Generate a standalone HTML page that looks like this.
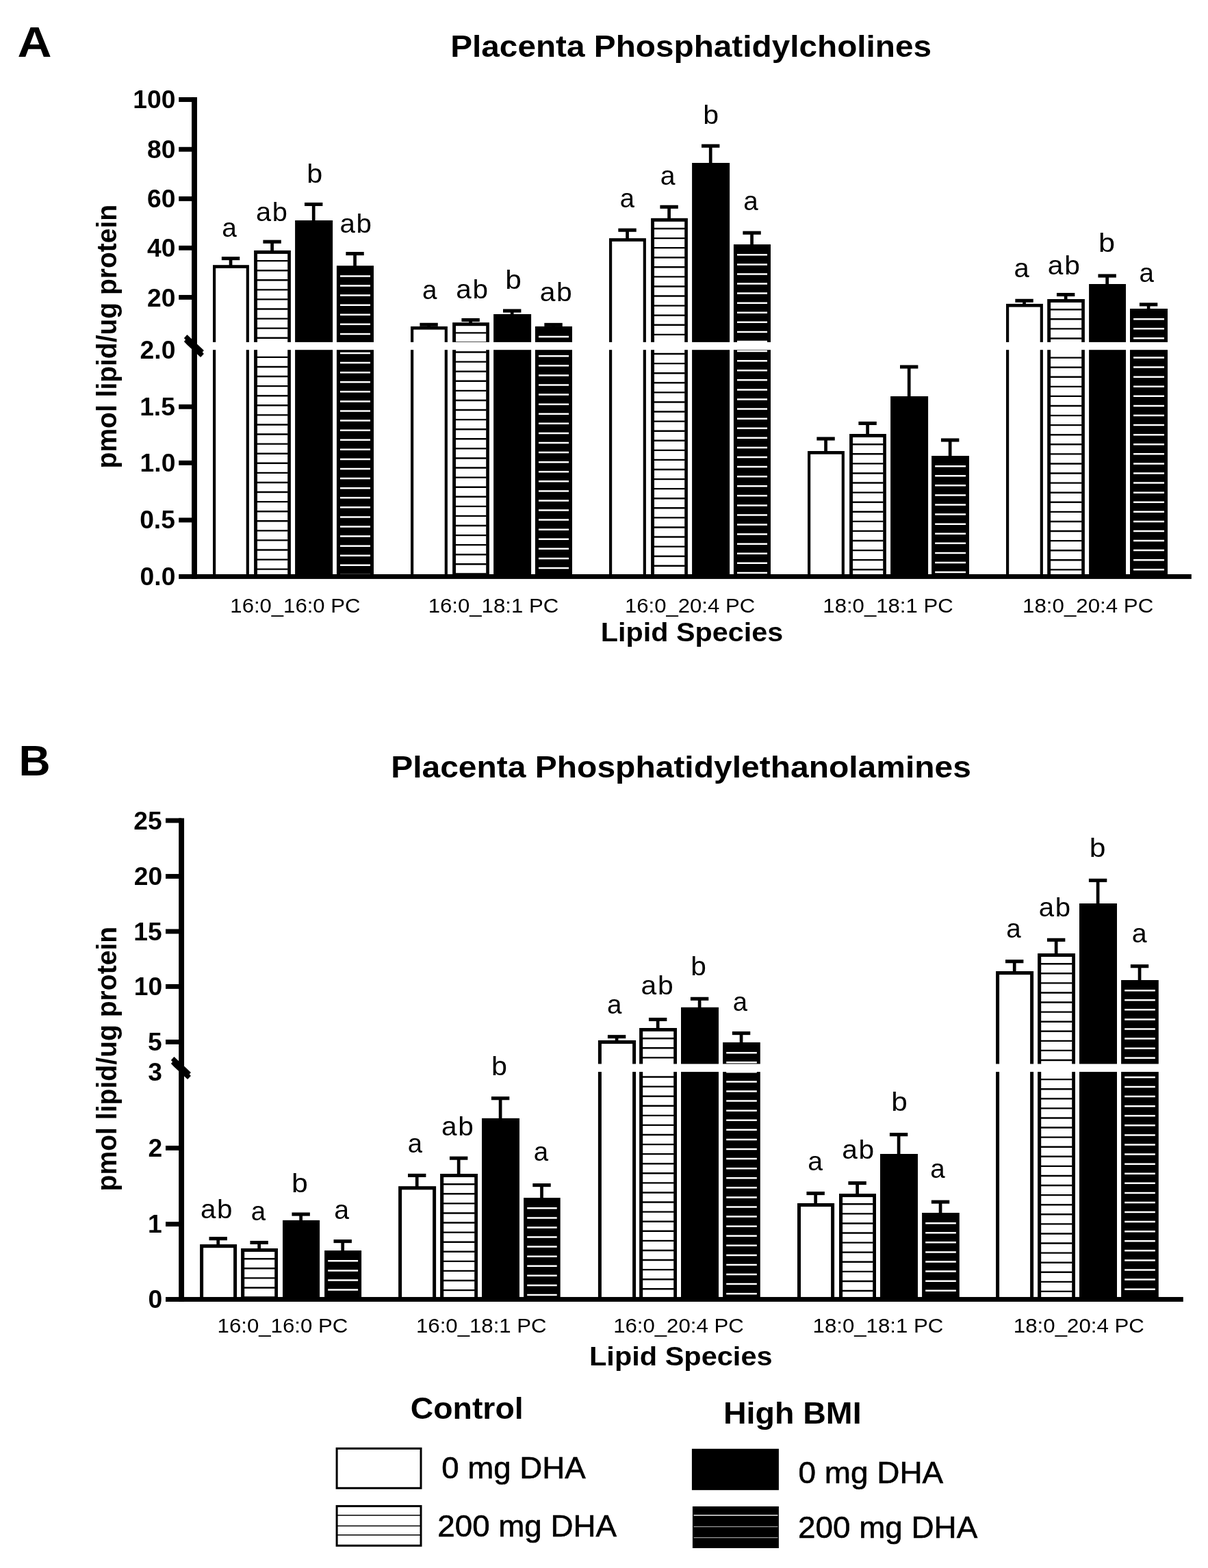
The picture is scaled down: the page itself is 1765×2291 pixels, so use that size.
<!DOCTYPE html>
<html lang="en">
<head>
<meta charset="utf-8">
<title>Placenta Phosphatidylcholines and Phosphatidylethanolamines</title>
<style>
html,body{margin:0;padding:0;background:#fff;}
body{width:1765px;height:2291px;overflow:hidden;}
svg{display:block;}
svg text{font-family:"Liberation Sans",sans-serif;fill:#000;white-space:pre;}
</style>
</head>
<body>
<svg width="1765" height="2291" viewBox="0 0 1765 2291">
<rect x="0" y="0" width="1765" height="2291" fill="#fff"/>
<text transform="translate(25.47 83.1) scale(1.0923 1)" font-size="63.4" font-weight="bold">A</text>
<text transform="translate(27.58 1133) scale(1.0084 1)" font-size="63.4" font-weight="bold">B</text>
<text transform="translate(658.18 82.9) scale(1.0753 1)" font-size="44.4" font-weight="bold">Placenta Phosphatidylcholines</text>
<text transform="translate(571.16 1135.8) scale(1.0806 1)" font-size="44.4" font-weight="bold">Placenta Phosphatidylethanolamines</text>
<rect x="334.7" y="377.6" width="4.7" height="10.6" fill="#000"/>
<rect x="323.85" y="375.05" width="26.4" height="5.1" fill="#000"/>
<rect x="311" y="387.2" width="52.9" height="455.25" fill="#000"/>
<rect x="315.2" y="391.9" width="44.5" height="450.55" fill="#fff"/>
<rect x="395.25" y="353.2" width="4.7" height="13.7" fill="#000"/>
<rect x="384.4" y="350.65" width="26.4" height="5.1" fill="#000"/>
<rect x="371.1" y="365.9" width="53.8" height="476.55" fill="#000"/>
<rect x="376" y="370.9" width="44.2" height="471.55" fill="#fff"/>
<path d="M375.6 381.1H420.6M375.6 395.18H420.6M375.6 409.26H420.6M375.6 423.34H420.6M375.6 437.42H420.6M375.6 451.5H420.6M375.6 465.58H420.6M375.6 479.66H420.6M375.6 493.74H420.6M375.6 507.82H420.6M375.6 521.9H420.6M375.6 535.98H420.6M375.6 550.06H420.6M375.6 564.14H420.6M375.6 578.22H420.6M375.6 592.3H420.6M375.6 606.38H420.6M375.6 620.46H420.6M375.6 634.54H420.6M375.6 648.62H420.6M375.6 662.7H420.6M375.6 676.78H420.6M375.6 690.86H420.6M375.6 704.94H420.6M375.6 719.02H420.6M375.6 733.1H420.6M375.6 747.18H420.6M375.6 761.26H420.6M375.6 775.34H420.6M375.6 789.42H420.6M375.6 803.5H420.6M375.6 817.58H420.6M375.6 831.66H420.6" stroke="#000" stroke-width="2.4" fill="none"/>
<rect x="455.85" y="298.5" width="4.7" height="24.5" fill="#000"/>
<rect x="445" y="295.95" width="26.4" height="5.1" fill="#000"/>
<rect x="431.1" y="322" width="55" height="520.45" fill="#000"/>
<rect x="516.2" y="370.6" width="4.7" height="18.6" fill="#000"/>
<rect x="505.35" y="368.05" width="26.4" height="5.1" fill="#000"/>
<rect x="491.9" y="388.2" width="54.1" height="454.25" fill="#000"/>
<path d="M497 403.4H541M497 417.48H541M497 431.56H541M497 445.64H541M497 459.72H541M497 473.8H541M497 487.88H541M497 501.96H541M497 516.04H541M497 530.12H541M497 544.2H541M497 558.28H541M497 572.36H541M497 586.44H541M497 600.52H541M497 614.6H541M497 628.68H541M497 642.76H541M497 656.84H541M497 670.92H541M497 685H541M497 699.08H541M497 713.16H541M497 727.24H541M497 741.32H541M497 755.4H541M497 769.48H541M497 783.56H541M497 797.64H541M497 811.72H541M497 825.8H541M497 839.88H541" stroke="#fff" stroke-width="2.5" fill="none"/>
<rect x="624.2" y="474.3" width="4.7" height="3.6" fill="#000"/>
<rect x="613.35" y="471.75" width="26.4" height="5.1" fill="#000"/>
<rect x="600" y="476.9" width="53.9" height="365.55" fill="#000"/>
<rect x="604.2" y="481.6" width="45.5" height="360.85" fill="#fff"/>
<rect x="685.25" y="467.5" width="4.7" height="4.7" fill="#000"/>
<rect x="674.4" y="464.95" width="26.4" height="5.1" fill="#000"/>
<rect x="661.1" y="471.2" width="53.8" height="371.25" fill="#000"/>
<rect x="666" y="476.2" width="44.2" height="366.25" fill="#fff"/>
<path d="M665.6 486.4H710.6M665.6 500.48H710.6M665.6 514.56H710.6M665.6 528.64H710.6M665.6 542.72H710.6M665.6 556.8H710.6M665.6 570.88H710.6M665.6 584.96H710.6M665.6 599.04H710.6M665.6 613.12H710.6M665.6 627.2H710.6M665.6 641.28H710.6M665.6 655.36H710.6M665.6 669.44H710.6M665.6 683.52H710.6M665.6 697.6H710.6M665.6 711.68H710.6M665.6 725.76H710.6M665.6 739.84H710.6M665.6 753.92H710.6M665.6 768H710.6M665.6 782.08H710.6M665.6 796.16H710.6M665.6 810.24H710.6M665.6 824.32H710.6M665.6 838.4H710.6" stroke="#000" stroke-width="2.4" fill="none"/>
<rect x="745.85" y="454.1" width="4.7" height="5.9" fill="#000"/>
<rect x="735" y="451.55" width="26.4" height="5.1" fill="#000"/>
<rect x="721.1" y="459" width="55" height="383.45" fill="#000"/>
<rect x="806.2" y="474.4" width="4.7" height="3.5" fill="#000"/>
<rect x="795.35" y="471.85" width="26.4" height="5.1" fill="#000"/>
<rect x="781.9" y="476.9" width="54.1" height="365.55" fill="#000"/>
<path d="M787 492.1H831M787 506.18H831M787 520.26H831M787 534.34H831M787 548.42H831M787 562.5H831M787 576.58H831M787 590.66H831M787 604.74H831M787 618.82H831M787 632.9H831M787 646.98H831M787 661.06H831M787 675.14H831M787 689.22H831M787 703.3H831M787 717.38H831M787 731.46H831M787 745.54H831M787 759.62H831M787 773.7H831M787 787.78H831M787 801.86H831M787 815.94H831M787 830.02H831" stroke="#fff" stroke-width="2.5" fill="none"/>
<rect x="914.2" y="336.2" width="4.7" height="12.9" fill="#000"/>
<rect x="903.35" y="333.65" width="26.4" height="5.1" fill="#000"/>
<rect x="890" y="348.1" width="53.9" height="494.35" fill="#000"/>
<rect x="894.2" y="352.8" width="45.5" height="489.65" fill="#fff"/>
<rect x="975.25" y="302.3" width="4.7" height="17.5" fill="#000"/>
<rect x="964.4" y="299.75" width="26.4" height="5.1" fill="#000"/>
<rect x="951.1" y="318.8" width="53.8" height="523.65" fill="#000"/>
<rect x="956" y="323.8" width="44.2" height="518.65" fill="#fff"/>
<path d="M955.6 334H1000.6M955.6 348.08H1000.6M955.6 362.16H1000.6M955.6 376.24H1000.6M955.6 390.32H1000.6M955.6 404.4H1000.6M955.6 418.48H1000.6M955.6 432.56H1000.6M955.6 446.64H1000.6M955.6 460.72H1000.6M955.6 474.8H1000.6M955.6 488.88H1000.6M955.6 502.96H1000.6M955.6 517.04H1000.6M955.6 531.12H1000.6M955.6 545.2H1000.6M955.6 559.28H1000.6M955.6 573.36H1000.6M955.6 587.44H1000.6M955.6 601.52H1000.6M955.6 615.6H1000.6M955.6 629.68H1000.6M955.6 643.76H1000.6M955.6 657.84H1000.6M955.6 671.92H1000.6M955.6 686H1000.6M955.6 700.08H1000.6M955.6 714.16H1000.6M955.6 728.24H1000.6M955.6 742.32H1000.6M955.6 756.4H1000.6M955.6 770.48H1000.6M955.6 784.56H1000.6M955.6 798.64H1000.6M955.6 812.72H1000.6M955.6 826.8H1000.6M955.6 840.88H1000.6" stroke="#000" stroke-width="2.4" fill="none"/>
<rect x="1035.85" y="213.2" width="4.7" height="25.8" fill="#000"/>
<rect x="1025" y="210.65" width="26.4" height="5.1" fill="#000"/>
<rect x="1011.1" y="238" width="55" height="604.45" fill="#000"/>
<rect x="1096.2" y="340.2" width="4.7" height="17.9" fill="#000"/>
<rect x="1085.35" y="337.65" width="26.4" height="5.1" fill="#000"/>
<rect x="1071.9" y="357.1" width="54.1" height="485.35" fill="#000"/>
<path d="M1077 372.3H1121M1077 386.38H1121M1077 400.46H1121M1077 414.54H1121M1077 428.62H1121M1077 442.7H1121M1077 456.78H1121M1077 470.86H1121M1077 484.94H1121M1077 499.02H1121M1077 513.1H1121M1077 527.18H1121M1077 541.26H1121M1077 555.34H1121M1077 569.42H1121M1077 583.5H1121M1077 597.58H1121M1077 611.66H1121M1077 625.74H1121M1077 639.82H1121M1077 653.9H1121M1077 667.98H1121M1077 682.06H1121M1077 696.14H1121M1077 710.22H1121M1077 724.3H1121M1077 738.38H1121M1077 752.46H1121M1077 766.54H1121M1077 780.62H1121M1077 794.7H1121M1077 808.78H1121M1077 822.86H1121M1077 836.94H1121" stroke="#fff" stroke-width="2.5" fill="none"/>
<rect x="1204.2" y="641" width="4.7" height="19" fill="#000"/>
<rect x="1193.35" y="638.45" width="26.4" height="5.1" fill="#000"/>
<rect x="1180" y="659" width="53.9" height="183.45" fill="#000"/>
<rect x="1184.2" y="663.7" width="45.5" height="178.75" fill="#fff"/>
<rect x="1265.25" y="618.5" width="4.7" height="16.5" fill="#000"/>
<rect x="1254.4" y="615.95" width="26.4" height="5.1" fill="#000"/>
<rect x="1241.1" y="634" width="53.8" height="208.45" fill="#000"/>
<rect x="1246" y="639" width="44.2" height="203.45" fill="#fff"/>
<path d="M1245.6 649.2H1290.6M1245.6 663.28H1290.6M1245.6 677.36H1290.6M1245.6 691.44H1290.6M1245.6 705.52H1290.6M1245.6 719.6H1290.6M1245.6 733.68H1290.6M1245.6 747.76H1290.6M1245.6 761.84H1290.6M1245.6 775.92H1290.6M1245.6 790H1290.6M1245.6 804.08H1290.6M1245.6 818.16H1290.6M1245.6 832.24H1290.6" stroke="#000" stroke-width="2.4" fill="none"/>
<rect x="1325.85" y="536" width="4.7" height="44" fill="#000"/>
<rect x="1315" y="533.45" width="26.4" height="5.1" fill="#000"/>
<rect x="1301.1" y="579" width="55" height="263.45" fill="#000"/>
<rect x="1385.8" y="643" width="4.7" height="24" fill="#000"/>
<rect x="1374.95" y="640.45" width="26.4" height="5.1" fill="#000"/>
<rect x="1361.1" y="666" width="54.9" height="176.45" fill="#000"/>
<path d="M1366.2 681.2H1411M1366.2 695.28H1411M1366.2 709.36H1411M1366.2 723.44H1411M1366.2 737.52H1411M1366.2 751.6H1411M1366.2 765.68H1411M1366.2 779.76H1411M1366.2 793.84H1411M1366.2 807.92H1411M1366.2 822H1411M1366.2 836.08H1411" stroke="#fff" stroke-width="2.5" fill="none"/>
<rect x="1494.2" y="439.3" width="4.7" height="5.6" fill="#000"/>
<rect x="1483.35" y="436.75" width="26.4" height="5.1" fill="#000"/>
<rect x="1470" y="443.9" width="53.9" height="398.55" fill="#000"/>
<rect x="1474.2" y="448.6" width="45.5" height="393.85" fill="#fff"/>
<rect x="1554.8" y="430.5" width="4.7" height="7.5" fill="#000"/>
<rect x="1543.95" y="427.95" width="26.4" height="5.1" fill="#000"/>
<rect x="1530.2" y="437" width="54.7" height="405.45" fill="#000"/>
<rect x="1535.1" y="442" width="45.1" height="400.45" fill="#fff"/>
<path d="M1534.7 452.2H1580.6M1534.7 466.28H1580.6M1534.7 480.36H1580.6M1534.7 494.44H1580.6M1534.7 508.52H1580.6M1534.7 522.6H1580.6M1534.7 536.68H1580.6M1534.7 550.76H1580.6M1534.7 564.84H1580.6M1534.7 578.92H1580.6M1534.7 593H1580.6M1534.7 607.08H1580.6M1534.7 621.16H1580.6M1534.7 635.24H1580.6M1534.7 649.32H1580.6M1534.7 663.4H1580.6M1534.7 677.48H1580.6M1534.7 691.56H1580.6M1534.7 705.64H1580.6M1534.7 719.72H1580.6M1534.7 733.8H1580.6M1534.7 747.88H1580.6M1534.7 761.96H1580.6M1534.7 776.04H1580.6M1534.7 790.12H1580.6M1534.7 804.2H1580.6M1534.7 818.28H1580.6M1534.7 832.36H1580.6" stroke="#000" stroke-width="2.4" fill="none"/>
<rect x="1615.3" y="403" width="4.7" height="13" fill="#000"/>
<rect x="1604.45" y="400.45" width="26.4" height="5.1" fill="#000"/>
<rect x="1591.1" y="415" width="53.9" height="427.45" fill="#000"/>
<rect x="1675.75" y="444.9" width="4.7" height="7.1" fill="#000"/>
<rect x="1664.9" y="442.35" width="26.4" height="5.1" fill="#000"/>
<rect x="1651" y="451" width="55" height="391.45" fill="#000"/>
<path d="M1656.1 466.2H1701M1656.1 480.28H1701M1656.1 494.36H1701M1656.1 508.44H1701M1656.1 522.52H1701M1656.1 536.6H1701M1656.1 550.68H1701M1656.1 564.76H1701M1656.1 578.84H1701M1656.1 592.92H1701M1656.1 607H1701M1656.1 621.08H1701M1656.1 635.16H1701M1656.1 649.24H1701M1656.1 663.32H1701M1656.1 677.4H1701M1656.1 691.48H1701M1656.1 705.56H1701M1656.1 719.64H1701M1656.1 733.72H1701M1656.1 747.8H1701M1656.1 761.88H1701M1656.1 775.96H1701M1656.1 790.04H1701M1656.1 804.12H1701M1656.1 818.2H1701M1656.1 832.28H1701" stroke="#fff" stroke-width="2.5" fill="none"/>
<rect x="288.95" y="499.9" width="1456.8" height="11.3" fill="#fff"/>
<rect x="280.05" y="142.05" width="7.9" height="703.85" fill="#000"/>
<rect x="261.2" y="839" width="1479.6" height="6.9" fill="#000"/>
<rect x="261.2" y="142.05" width="22.8" height="6.9" fill="#000"/>
<text transform="translate(194.29 158.15) scale(1.012 1)" font-size="36.8" font-weight="bold">100</text>
<rect x="261.2" y="214.75" width="22.8" height="6.9" fill="#000"/>
<text transform="translate(215.05 230.85) scale(1.012 1)" font-size="36.8" font-weight="bold">80</text>
<rect x="261.2" y="286.95" width="22.8" height="6.9" fill="#000"/>
<text transform="translate(215.05 302.9) scale(1.012 1)" font-size="36.8" font-weight="bold">60</text>
<rect x="261.2" y="358.85" width="22.8" height="6.9" fill="#000"/>
<text transform="translate(215.05 375) scale(1.012 1)" font-size="36.8" font-weight="bold">40</text>
<rect x="261.2" y="430.95" width="22.8" height="6.9" fill="#000"/>
<text transform="translate(215.05 447.65) scale(1.012 1)" font-size="36.8" font-weight="bold">20</text>
<text transform="translate(204.62 524) scale(1.012 1)" font-size="36.8" font-weight="bold">2.0</text>
<rect x="261.2" y="590.85" width="22.8" height="6.9" fill="#000"/>
<text transform="translate(204.16 606.77) scale(1.012 1)" font-size="36.8" font-weight="bold">1.5</text>
<rect x="261.2" y="672.85" width="22.8" height="6.9" fill="#000"/>
<text transform="translate(204.62 688.95) scale(1.012 1)" font-size="36.8" font-weight="bold">1.0</text>
<rect x="261.2" y="756.45" width="22.8" height="6.9" fill="#000"/>
<text transform="translate(204.16 772.2) scale(1.012 1)" font-size="36.8" font-weight="bold">0.5</text>
<text transform="translate(204.62 854.55) scale(1.012 1)" font-size="36.8" font-weight="bold">0.0</text>
<path d="M273.4 488.9L268.9 493.9L271.1 496.4L268.9 499.1L273.1 503.6L293.1 521.9L297.9 517L295.7 514.4L297.9 512L293.7 508Z" fill="#000"/>
<text transform="translate(324.3 345.9) scale(1.0085 1)" font-size="38.6">a</text>
<text transform="translate(374.01 322.7) scale(1.03 1)" font-size="38.6" letter-spacing="1.6">ab</text>
<text transform="translate(448.21 266.8) scale(1.0708 1)" font-size="38.6">b</text>
<text transform="translate(496.49 339.7) scale(1.0446 1)" font-size="38.6" letter-spacing="1.6">ab</text>
<text x="616.96" y="437.2" font-size="38.6">a</text>
<text transform="translate(666.28 435.7) scale(1.0494 1)" font-size="38.6" letter-spacing="1.6">ab</text>
<text transform="translate(738.14 421.75) scale(1.0996 1)" font-size="38.6">b</text>
<text transform="translate(788.66 439.8) scale(1.0591 1)" font-size="38.6" letter-spacing="1.6">ab</text>
<text transform="translate(905.87 302.7) scale(0.9908 1)" font-size="38.6">a</text>
<text transform="translate(964.83 270.3) scale(1.016 1)" font-size="38.6">a</text>
<text transform="translate(1027.23 180.7) scale(1.0651 1)" font-size="38.6">b</text>
<text x="1086.16" y="306.9" font-size="38.6">a</text>
<text transform="translate(1481.5 404.7) scale(1.0363 1)" font-size="38.6">a</text>
<text transform="translate(1530.87 400.8) scale(1.0567 1)" font-size="38.6" letter-spacing="1.6">ab</text>
<text transform="translate(1604.98 367.9) scale(1.1226 1)" font-size="38.6">b</text>
<text x="1664.56" y="412.2" font-size="38.6">a</text>
<text transform="translate(336.37 894.8) scale(1.0294 1)" font-size="30.2">16:0_16:0 PC</text>
<text transform="translate(625.66 894.8) scale(1.0321 1)" font-size="30.2">16:0_18:1 PC</text>
<text transform="translate(912.97 894.8) scale(1.0299 1)" font-size="30.2">16:0_20:4 PC</text>
<text transform="translate(1202.37 894.8) scale(1.0305 1)" font-size="30.2">18:0_18:1 PC</text>
<text transform="translate(1494.05 894.8) scale(1.036 1)" font-size="30.2">18:0_20:4 PC</text>
<rect x="316.35" y="1809.7" width="4.7" height="9.4" fill="#000"/>
<rect x="305.5" y="1807.15" width="26.4" height="5.1" fill="#000"/>
<rect x="292.1" y="1818.1" width="54" height="80.4" fill="#000"/>
<rect x="297.1" y="1823.2" width="44" height="75.3" fill="#fff"/>
<rect x="376.3" y="1815.5" width="4.7" height="9.5" fill="#000"/>
<rect x="365.45" y="1812.95" width="26.4" height="5.1" fill="#000"/>
<rect x="352.1" y="1824" width="53.9" height="74.5" fill="#000"/>
<rect x="357.2" y="1829" width="44" height="69.5" fill="#fff"/>
<path d="M356.6 1839.2H401.7M356.6 1853.28H401.7M356.6 1867.36H401.7M356.6 1881.44H401.7M356.6 1895.52H401.7" stroke="#000" stroke-width="2.4" fill="none"/>
<rect x="437.3" y="1774.1" width="4.7" height="9.8" fill="#000"/>
<rect x="426.45" y="1771.55" width="26.4" height="5.1" fill="#000"/>
<rect x="413" y="1782.9" width="54.1" height="115.6" fill="#000"/>
<rect x="498.35" y="1813.6" width="4.7" height="14.5" fill="#000"/>
<rect x="487.5" y="1811.05" width="26.4" height="5.1" fill="#000"/>
<rect x="474.1" y="1827.1" width="54" height="71.4" fill="#000"/>
<path d="M479.2 1842.3H523.1M479.2 1856.38H523.1M479.2 1870.46H523.1M479.2 1884.54H523.1" stroke="#fff" stroke-width="2.5" fill="none"/>
<rect x="606.85" y="1717.4" width="4.7" height="16.8" fill="#000"/>
<rect x="596" y="1714.85" width="26.4" height="5.1" fill="#000"/>
<rect x="582.1" y="1733.2" width="55" height="165.3" fill="#000"/>
<rect x="587.1" y="1738.3" width="45" height="160.2" fill="#fff"/>
<rect x="667.8" y="1692.2" width="4.7" height="23.8" fill="#000"/>
<rect x="656.95" y="1689.65" width="26.4" height="5.1" fill="#000"/>
<rect x="643.1" y="1715" width="54.9" height="183.5" fill="#000"/>
<rect x="648.2" y="1720" width="45" height="178.5" fill="#fff"/>
<path d="M647.6 1730.2H693.7M647.6 1744.28H693.7M647.6 1758.36H693.7M647.6 1772.44H693.7M647.6 1786.52H693.7M647.6 1800.6H693.7M647.6 1814.68H693.7M647.6 1828.76H693.7M647.6 1842.84H693.7M647.6 1856.92H693.7M647.6 1871H693.7M647.6 1885.08H693.7" stroke="#000" stroke-width="2.4" fill="none"/>
<rect x="728.75" y="1604.7" width="4.7" height="30.2" fill="#000"/>
<rect x="717.9" y="1602.15" width="26.4" height="5.1" fill="#000"/>
<rect x="704" y="1633.9" width="55" height="264.6" fill="#000"/>
<rect x="789.15" y="1731.6" width="4.7" height="19.5" fill="#000"/>
<rect x="778.3" y="1729.05" width="26.4" height="5.1" fill="#000"/>
<rect x="765.1" y="1750.1" width="53.6" height="148.4" fill="#000"/>
<path d="M770.2 1765.3H813.7M770.2 1779.38H813.7M770.2 1793.46H813.7M770.2 1807.54H813.7M770.2 1821.62H813.7M770.2 1835.7H813.7M770.2 1849.78H813.7M770.2 1863.86H813.7M770.2 1877.94H813.7M770.2 1892.02H813.7" stroke="#fff" stroke-width="2.5" fill="none"/>
<rect x="898.75" y="1514.7" width="4.7" height="6.3" fill="#000"/>
<rect x="887.9" y="1512.15" width="26.4" height="5.1" fill="#000"/>
<rect x="873.9" y="1520" width="55.2" height="378.5" fill="#000"/>
<rect x="878.9" y="1525.1" width="45.2" height="373.4" fill="#fff"/>
<rect x="958.8" y="1489.5" width="4.7" height="13.5" fill="#000"/>
<rect x="947.95" y="1486.95" width="26.4" height="5.1" fill="#000"/>
<rect x="934.1" y="1502" width="54.9" height="396.5" fill="#000"/>
<rect x="939.2" y="1507" width="45" height="391.5" fill="#fff"/>
<path d="M938.6 1517.2H984.7M938.6 1531.28H984.7M938.6 1545.36H984.7M938.6 1559.44H984.7M938.6 1573.52H984.7M938.6 1587.6H984.7M938.6 1601.68H984.7M938.6 1615.76H984.7M938.6 1629.84H984.7M938.6 1643.92H984.7M938.6 1658H984.7M938.6 1672.08H984.7M938.6 1686.16H984.7M938.6 1700.24H984.7M938.6 1714.32H984.7M938.6 1728.4H984.7M938.6 1742.48H984.7M938.6 1756.56H984.7M938.6 1770.64H984.7M938.6 1784.72H984.7M938.6 1798.8H984.7M938.6 1812.88H984.7M938.6 1826.96H984.7M938.6 1841.04H984.7M938.6 1855.12H984.7M938.6 1869.2H984.7M938.6 1883.28H984.7M938.6 1897.36H984.7" stroke="#000" stroke-width="2.4" fill="none"/>
<rect x="1019.75" y="1459.3" width="4.7" height="13.5" fill="#000"/>
<rect x="1008.9" y="1456.75" width="26.4" height="5.1" fill="#000"/>
<rect x="995" y="1471.8" width="55" height="426.7" fill="#000"/>
<rect x="1080.7" y="1509.6" width="4.7" height="14.4" fill="#000"/>
<rect x="1069.85" y="1507.05" width="26.4" height="5.1" fill="#000"/>
<rect x="1056.1" y="1523" width="54.7" height="375.5" fill="#000"/>
<path d="M1061.2 1538.2H1105.8M1061.2 1552.28H1105.8M1061.2 1566.36H1105.8M1061.2 1580.44H1105.8M1061.2 1594.52H1105.8M1061.2 1608.6H1105.8M1061.2 1622.68H1105.8M1061.2 1636.76H1105.8M1061.2 1650.84H1105.8M1061.2 1664.92H1105.8M1061.2 1679H1105.8M1061.2 1693.08H1105.8M1061.2 1707.16H1105.8M1061.2 1721.24H1105.8M1061.2 1735.32H1105.8M1061.2 1749.4H1105.8M1061.2 1763.48H1105.8M1061.2 1777.56H1105.8M1061.2 1791.64H1105.8M1061.2 1805.72H1105.8M1061.2 1819.8H1105.8M1061.2 1833.88H1105.8M1061.2 1847.96H1105.8M1061.2 1862.04H1105.8M1061.2 1876.12H1105.8M1061.2 1890.2H1105.8" stroke="#fff" stroke-width="2.5" fill="none"/>
<rect x="1189.3" y="1743.6" width="4.7" height="15.4" fill="#000"/>
<rect x="1178.45" y="1741.05" width="26.4" height="5.1" fill="#000"/>
<rect x="1165" y="1758" width="54.1" height="140.5" fill="#000"/>
<rect x="1170" y="1763.1" width="44.1" height="135.4" fill="#fff"/>
<rect x="1250.25" y="1728.6" width="4.7" height="16.5" fill="#000"/>
<rect x="1239.4" y="1726.05" width="26.4" height="5.1" fill="#000"/>
<rect x="1226" y="1744.1" width="54" height="154.4" fill="#000"/>
<rect x="1231.1" y="1749.1" width="44.1" height="149.4" fill="#fff"/>
<path d="M1230.5 1759.3H1275.7M1230.5 1773.38H1275.7M1230.5 1787.46H1275.7M1230.5 1801.54H1275.7M1230.5 1815.62H1275.7M1230.5 1829.7H1275.7M1230.5 1843.78H1275.7M1230.5 1857.86H1275.7M1230.5 1871.94H1275.7M1230.5 1886.02H1275.7" stroke="#000" stroke-width="2.4" fill="none"/>
<rect x="1310.75" y="1657.7" width="4.7" height="29.3" fill="#000"/>
<rect x="1299.9" y="1655.15" width="26.4" height="5.1" fill="#000"/>
<rect x="1286" y="1686" width="55" height="212.5" fill="#000"/>
<rect x="1371.7" y="1756.1" width="4.7" height="16.9" fill="#000"/>
<rect x="1360.85" y="1753.55" width="26.4" height="5.1" fill="#000"/>
<rect x="1347.1" y="1772" width="54.7" height="126.5" fill="#000"/>
<path d="M1352.2 1787.2H1396.8M1352.2 1801.28H1396.8M1352.2 1815.36H1396.8M1352.2 1829.44H1396.8M1352.2 1843.52H1396.8M1352.2 1857.6H1396.8M1352.2 1871.68H1396.8M1352.2 1885.76H1396.8" stroke="#fff" stroke-width="2.5" fill="none"/>
<rect x="1479.85" y="1404.7" width="4.7" height="15.3" fill="#000"/>
<rect x="1469" y="1402.15" width="26.4" height="5.1" fill="#000"/>
<rect x="1455.1" y="1419" width="55" height="479.5" fill="#000"/>
<rect x="1460.1" y="1424.1" width="45" height="474.4" fill="#fff"/>
<rect x="1540.8" y="1373.3" width="4.7" height="20.7" fill="#000"/>
<rect x="1529.95" y="1370.75" width="26.4" height="5.1" fill="#000"/>
<rect x="1516.1" y="1393" width="54.9" height="505.5" fill="#000"/>
<rect x="1521.2" y="1398" width="45" height="500.5" fill="#fff"/>
<path d="M1520.6 1408.2H1566.7M1520.6 1422.28H1566.7M1520.6 1436.36H1566.7M1520.6 1450.44H1566.7M1520.6 1464.52H1566.7M1520.6 1478.6H1566.7M1520.6 1492.68H1566.7M1520.6 1506.76H1566.7M1520.6 1520.84H1566.7M1520.6 1534.92H1566.7M1520.6 1549H1566.7M1520.6 1563.08H1566.7M1520.6 1577.16H1566.7M1520.6 1591.24H1566.7M1520.6 1605.32H1566.7M1520.6 1619.4H1566.7M1520.6 1633.48H1566.7M1520.6 1647.56H1566.7M1520.6 1661.64H1566.7M1520.6 1675.72H1566.7M1520.6 1689.8H1566.7M1520.6 1703.88H1566.7M1520.6 1717.96H1566.7M1520.6 1732.04H1566.7M1520.6 1746.12H1566.7M1520.6 1760.2H1566.7M1520.6 1774.28H1566.7M1520.6 1788.36H1566.7M1520.6 1802.44H1566.7M1520.6 1816.52H1566.7M1520.6 1830.6H1566.7M1520.6 1844.68H1566.7M1520.6 1858.76H1566.7M1520.6 1872.84H1566.7M1520.6 1886.92H1566.7" stroke="#000" stroke-width="2.4" fill="none"/>
<rect x="1601.75" y="1286.3" width="4.7" height="34.7" fill="#000"/>
<rect x="1590.9" y="1283.75" width="26.4" height="5.1" fill="#000"/>
<rect x="1577" y="1320" width="55" height="578.5" fill="#000"/>
<rect x="1662.7" y="1411.7" width="4.7" height="21.3" fill="#000"/>
<rect x="1651.85" y="1409.15" width="26.4" height="5.1" fill="#000"/>
<rect x="1638.1" y="1432" width="54.7" height="466.5" fill="#000"/>
<path d="M1643.2 1447.2H1687.8M1643.2 1461.28H1687.8M1643.2 1475.36H1687.8M1643.2 1489.44H1687.8M1643.2 1503.52H1687.8M1643.2 1517.6H1687.8M1643.2 1531.68H1687.8M1643.2 1545.76H1687.8M1643.2 1559.84H1687.8M1643.2 1573.92H1687.8M1643.2 1588H1687.8M1643.2 1602.08H1687.8M1643.2 1616.16H1687.8M1643.2 1630.24H1687.8M1643.2 1644.32H1687.8M1643.2 1658.4H1687.8M1643.2 1672.48H1687.8M1643.2 1686.56H1687.8M1643.2 1700.64H1687.8M1643.2 1714.72H1687.8M1643.2 1728.8H1687.8M1643.2 1742.88H1687.8M1643.2 1756.96H1687.8M1643.2 1771.04H1687.8M1643.2 1785.12H1687.8M1643.2 1799.2H1687.8M1643.2 1813.28H1687.8M1643.2 1827.36H1687.8M1643.2 1841.44H1687.8M1643.2 1855.52H1687.8M1643.2 1869.6H1687.8M1643.2 1883.68H1687.8" stroke="#fff" stroke-width="2.5" fill="none"/>
<rect x="270.05" y="1554.5" width="1463.7" height="11.6" fill="#fff"/>
<rect x="261.15" y="1195.45" width="7.9" height="706.5" fill="#000"/>
<rect x="242" y="1895.05" width="1486.8" height="6.9" fill="#000"/>
<rect x="242" y="1195.45" width="23.1" height="6.9" fill="#000"/>
<text transform="translate(195.29 1211.9) scale(1.012 1)" font-size="36.8" font-weight="bold">25</text>
<rect x="242" y="1276.95" width="23.1" height="6.9" fill="#000"/>
<text transform="translate(195.75 1293) scale(1.012 1)" font-size="36.8" font-weight="bold">20</text>
<rect x="242" y="1357.45" width="23.1" height="6.9" fill="#000"/>
<text transform="translate(195.29 1373.82) scale(1.012 1)" font-size="36.8" font-weight="bold">15</text>
<rect x="242" y="1437.95" width="23.1" height="6.9" fill="#000"/>
<text transform="translate(195.75 1454.4) scale(1.012 1)" font-size="36.8" font-weight="bold">10</text>
<rect x="242" y="1518.95" width="23.1" height="6.9" fill="#000"/>
<text transform="translate(215.96 1534.97) scale(1.012 1)" font-size="36.8" font-weight="bold">5</text>
<text transform="translate(216.23 1578.9) scale(1.012 1)" font-size="36.8" font-weight="bold">3</text>
<rect x="242" y="1673.95" width="23.1" height="6.9" fill="#000"/>
<text transform="translate(216.42 1690.23) scale(1.012 1)" font-size="36.8" font-weight="bold">2</text>
<rect x="242" y="1785.15" width="23.1" height="6.9" fill="#000"/>
<text transform="translate(215.96 1801.25) scale(1.012 1)" font-size="36.8" font-weight="bold">1</text>
<text transform="translate(216.42 1911.15) scale(1.012 1)" font-size="36.8" font-weight="bold">0</text>
<path d="M254.4 1543.9L249.9 1548.9L252.1 1551.4L249.9 1554.1L254.1 1558.6L274.1 1576.9L278.9 1572L276.7 1569.4L278.9 1567L274.7 1563Z" fill="#000"/>
<text transform="translate(292.98 1779.6) scale(1.047 1)" font-size="38.6" letter-spacing="1.6">ab</text>
<text transform="translate(366.77 1783.4) scale(0.9958 1)" font-size="38.6">a</text>
<text transform="translate(426.01 1741.7) scale(1.1111 1)" font-size="38.6">b</text>
<text transform="translate(488.13 1781.4) scale(1.016 1)" font-size="38.6">a</text>
<text transform="translate(595.87 1684.4) scale(0.9908 1)" font-size="38.6">a</text>
<text transform="translate(645.07 1659) scale(1.0518 1)" font-size="38.6" letter-spacing="1.6">ab</text>
<text transform="translate(717.91 1570.9) scale(1.0708 1)" font-size="38.6">b</text>
<text transform="translate(779.67 1696) scale(0.9958 1)" font-size="38.6">a</text>
<text x="886.96" y="1481.2" font-size="38.6">a</text>
<text transform="translate(936.56 1452.6) scale(1.0591 1)" font-size="38.6" letter-spacing="1.6">ab</text>
<text transform="translate(1009.26 1425.1) scale(1.0535 1)" font-size="38.6">b</text>
<text transform="translate(1070.77 1476.6) scale(0.9908 1)" font-size="38.6">a</text>
<text transform="translate(1180.33 1709.8) scale(1.016 1)" font-size="38.6">a</text>
<text transform="translate(1230.17 1692.8) scale(1.0543 1)" font-size="38.6" letter-spacing="1.6">ab</text>
<text transform="translate(1302.24 1622.9) scale(1.0996 1)" font-size="38.6">b</text>
<text x="1359.26" y="1720.9" font-size="38.6">a</text>
<text x="1470.36" y="1369.6" font-size="38.6">a</text>
<text transform="translate(1517.79 1339) scale(1.0397 1)" font-size="38.6" letter-spacing="1.6">ab</text>
<text transform="translate(1591.73 1252) scale(1.1054 1)" font-size="38.6">b</text>
<text transform="translate(1653.72 1377.3) scale(1.0211 1)" font-size="38.6">a</text>
<text transform="translate(317.56 1946.8) scale(1.0332 1)" font-size="30.2">16:0_16:0 PC</text>
<text transform="translate(607.96 1946.8) scale(1.0327 1)" font-size="30.2">16:0_18:1 PC</text>
<text transform="translate(896.16 1946.8) scale(1.0321 1)" font-size="30.2">16:0_20:4 PC</text>
<text transform="translate(1187.56 1946.8) scale(1.0332 1)" font-size="30.2">18:0_18:1 PC</text>
<text transform="translate(1480.86 1946.8) scale(1.0343 1)" font-size="30.2">18:0_20:4 PC</text>
<text transform="translate(170.3 684.43) rotate(-90) scale(0.9749 1)" font-size="40" font-weight="bold">pmol lipid/ug protein</text>
<text transform="translate(170.3 1740.44) rotate(-90) scale(0.9777 1)" font-size="40" font-weight="bold">pmol lipid/ug protein</text>
<text transform="translate(877.71 936.7) scale(1.071 1)" font-size="38.6" font-weight="bold">Lipid Species</text>
<text transform="translate(861 1994.8) scale(1.0755 1)" font-size="38.6" font-weight="bold">Lipid Species</text>
<text transform="translate(599.74 2072.9) scale(1.0471 1)" font-size="44.3" font-weight="bold">Control</text>
<text transform="translate(1056.96 2080.2) scale(1.0508 1)" font-size="44.3" font-weight="bold">High BMI</text>
<rect x="492.1" y="2116.4" width="122.9" height="57.9" fill="#fff" stroke="#000" stroke-width="3"/>
<rect x="492.1" y="2200.6" width="122.9" height="57.7" fill="#fff" stroke="#000" stroke-width="3"/>
<path d="M492 2213.9H615M492 2229.4H615M492 2242.7H615" stroke="#000" stroke-width="1.5" fill="none"/>
<rect x="1010.9" y="2116.8" width="127" height="60.4" fill="#000"/>
<rect x="1011.9" y="2201" width="126" height="61" fill="#000"/>
<path d="M1013.5 2213.9H1136.5" stroke="#eee" stroke-width="1.5" fill="none"/>
<path d="M1013.5 2230.7H1136.5M1013.5 2246.7H1136.5" stroke="#999" stroke-width="1.3" fill="none"/>
<text transform="translate(645.28 2160.4) scale(1.0483 1)" font-size="43.5" stroke="#000" stroke-width="0.6">0 mg DHA</text>
<text transform="translate(639.31 2244.6) scale(1.0513 1)" font-size="43.5" stroke="#000" stroke-width="0.6">200 mg DHA</text>
<text transform="translate(1166.46 2167.1) scale(1.0559 1)" font-size="43.5" stroke="#000" stroke-width="0.6">0 mg DHA</text>
<text transform="translate(1166.01 2246.5) scale(1.0533 1)" font-size="43.5" stroke="#000" stroke-width="0.6">200 mg DHA</text>
</svg>
</body>
</html>
